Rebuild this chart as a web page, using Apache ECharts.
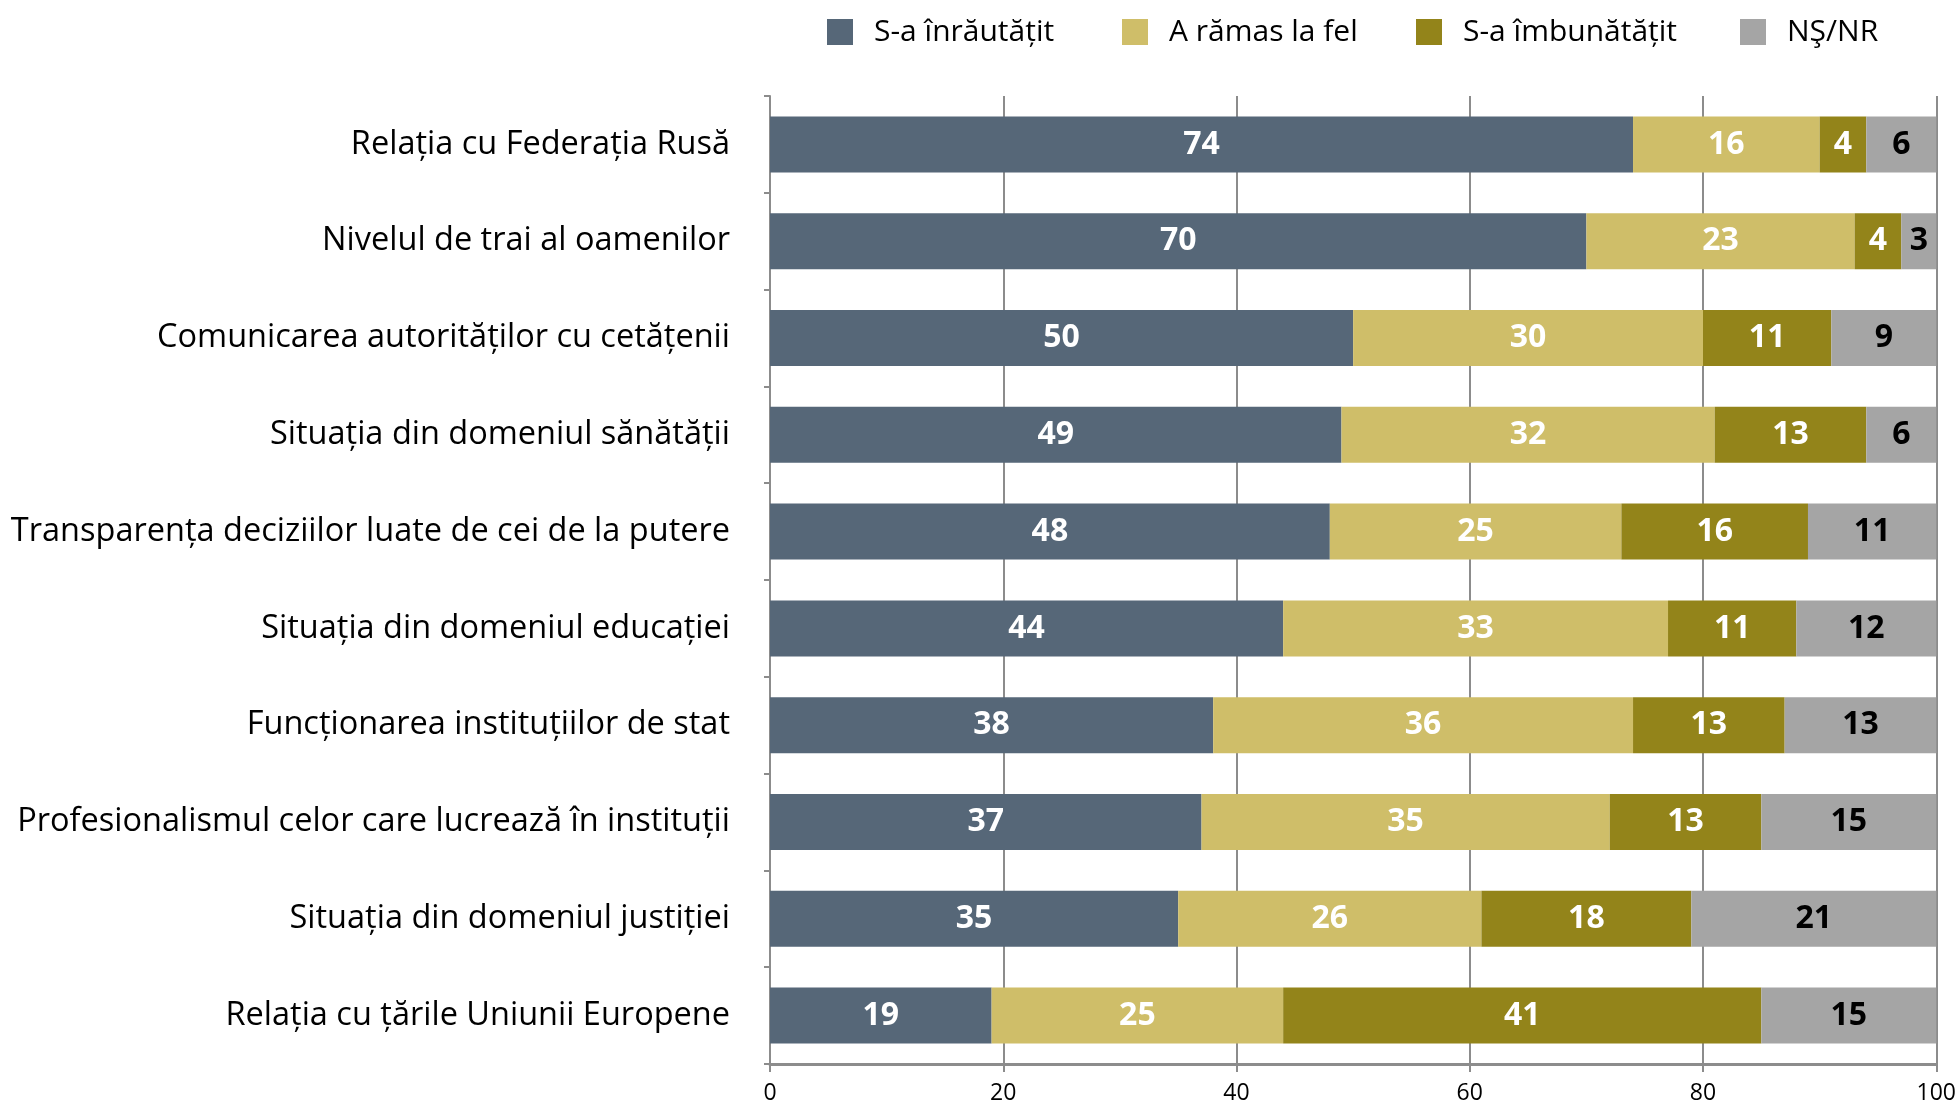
<!DOCTYPE html>
<html>
<head>
<meta charset="utf-8">
<title>Evaluare</title>
<script src="https://cdn.jsdelivr.net/npm/echarts@6/dist/echarts.min.js"></script>
<style>
  html, body { margin: 0; padding: 0; background: #fff; }
  #chart { width: 1959px; height: 1106px; }
</style>
</head>
<body>
<div id="chart"></div>
<script>
// categories, top to bottom
var categories = [
  'Relația cu Federația Rusă',
  'Nivelul de trai al oamenilor',
  'Comunicarea autorităților cu cetățenii',
  'Situația din domeniul sănătății',
  'Transparența deciziilor luate de cei de la putere',
  'Situația din domeniul educației',
  'Funcționarea instituțiilor de stat',
  'Profesionalismul celor care lucrează în instituții',
  'Situația din domeniul justiției',
  'Relația cu țările Uniunii Europene'
];

var seriesNames = ['S-a înrăutățit', 'A rămas la fel', 'S-a îmbunătățit', 'NŞ/NR'];

var worse    = [74, 70, 50, 49, 48, 44, 38, 37, 35, 19];
var same     = [16, 23, 30, 32, 25, 33, 36, 35, 26, 25];
var better   = [4, 4, 11, 13, 16, 11, 13, 13, 18, 41];
var dontKnow = [6, 3, 9, 6, 11, 12, 13, 15, 21, 15];

var xTicks = [0, 20, 40, 60, 80, 100];

var colors = ['#566778', '#cfbe69', '#93841a', '#a5a5a5'];
var labelColors = ['#fff', '#fff', '#fff', '#000'];
var font = '"Open Sans", sans-serif';

var chart = echarts.init(document.getElementById('chart'));

var values = [worse, same, better, dontKnow];
var legendLeft = [822, 1117, 1411, 1735];

var option = {
  animation: false,
  textStyle: { fontFamily: font },
  legend: seriesNames.map(function (n, i) {
    return {
      data: [n],
      left: legendLeft[i],
      top: 12,
      itemWidth: 26,
      itemHeight: 26,
      icon: 'rect',
      textStyle: { fontSize: 30, color: '#000', fontFamily: font, padding: [0, 0, 0, 16] }
    };
  }),
  grid: { left: 770, right: 22, top: 96, bottom: 42, containLabel: false },
  xAxis: {
    type: 'value',
    min: xTicks[0],
    max: xTicks[xTicks.length - 1],
    interval: 20,
    axisLine: { show: true, lineStyle: { color: '#8c8c8c', width: 3 } },
    axisTick: { show: true, length: 8, lineStyle: { color: '#8c8c8c', width: 2 } },
    axisLabel: { color: '#000', fontSize: 23, margin: 18, fontFamily: font },
    splitLine: { show: true, lineStyle: { color: '#8c8c8c', width: 2 } }
  },
  yAxis: {
    type: 'category',
    data: categories,
    inverse: true,
    axisLine: { show: true, lineStyle: { color: '#8c8c8c', width: 2 } },
    axisTick: { show: true, length: 6, lineStyle: { color: '#8c8c8c', width: 2 } },
    axisLabel: { color: '#000', fontSize: 32.5, margin: 40, fontFamily: font }
  },
  series: seriesNames.map(function (n, i) {
    return {
      name: n,
      type: 'bar',
      stack: 'total',
      barWidth: 56,
      data: values[i],
      itemStyle: { color: colors[i] },
      label: {
        show: true,
        position: 'inside',
        color: labelColors[i],
        fontSize: 32,
        fontWeight: 'bold',
        fontFamily: font
      }
    };
  })
};

chart.setOption(option);
</script>
</body>
</html>
